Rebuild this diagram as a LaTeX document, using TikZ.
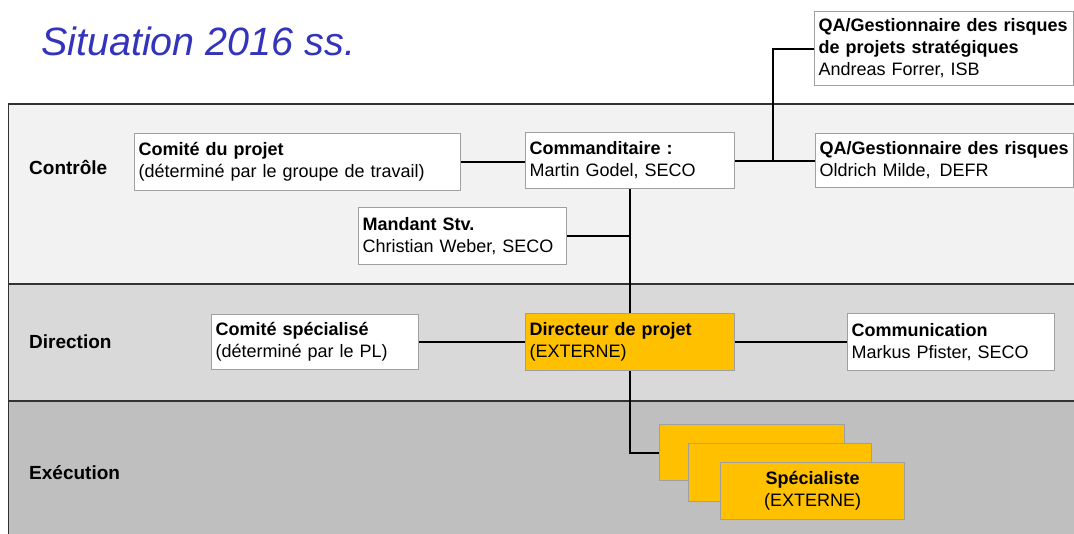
\documentclass[tikz,border=0pt]{standalone}
\usepackage{fontspec}
\setmainfont{Liberation Sans}
\definecolor{titleblue}{RGB}{51,51,187}
\definecolor{bandA}{RGB}{242,242,242}
\definecolor{bandB}{RGB}{217,217,217}
\definecolor{bandC}{RGB}{191,191,191}
\definecolor{boxgray}{RGB}{160,160,160}
\definecolor{frameline}{RGB}{50,50,50}
\definecolor{orangebox}{RGB}{255,192,0}
\tikzset{
  box/.style={draw=boxgray, line width=1.2pt, fill=white, anchor=north west,
    inner xsep=4pt, inner ysep=0pt, align=left,
    font=\fontsize{18}{22}\selectfont},
  orange/.style={fill=orangebox},
  lane/.style={draw=frameline, line width=1.2pt},
  lanelabel/.style={anchor=west, font=\fontsize{19}{22}\selectfont\bfseries},
  conn/.style={draw=black, line width=2pt},
}
\begin{document}
\begin{tikzpicture}[x=1pt,y=-1pt]
\useasboundingbox (0,0) rectangle (1074,533);
\clip (0,0) rectangle (1074,533);
% lanes
\fill[white] (0,0) rectangle (1074,533);
\path[lane, fill=bandA] (8.5,104) rectangle (1090,284);
\path[lane, fill=bandB] (8.5,284) rectangle (1090,401);
\path[lane, fill=bandC] (8.5,401) rectangle (1090,560);
% title
\node[anchor=base west, inner sep=0pt, text=titleblue,
  font=\fontsize{39.5}{44}\selectfont\itshape] (title) at (41,55) {Situation 2016 ss.};
% lane labels
\node[lanelabel, inner sep=0pt] (lctrl) at (29,167) {Contrôle};
\node[lanelabel, inner sep=0pt] (ldir) at (29,342) {Direction};
\node[lanelabel, inner sep=0pt] (lexe) at (29,473) {Exécution};
% boxes
\node[box, minimum width=326, minimum height=57, text width=318pt] (comite) at (134,133)
  {\textbf{Comité du projet}\\(déterminé par le groupe de travail)};
\node[box, minimum width=209, minimum height=56, text width=201pt] (comm) at (525,132)
  {\textbf{Commanditaire :}\\Martin Godel, SECO};
\node[box, minimum width=208, minimum height=57, text width=200pt] (mand) at (358,207)
  {\textbf{Mandant Stv.}\\Christian Weber, SECO};
\node[box, minimum width=259, minimum height=74, text width=251pt] (qa1) at (814,11)
  {\textbf{QA/Gestionnaire des risques}\\\textbf{de projets stratégiques}\\Andreas Forrer, ISB};
\node[box, minimum width=258, minimum height=54, text width=250pt] (qa2) at (815,133)
  {\textbf{QA/Gestionnaire des risques}\\Oldrich Milde,\, DEFR};
\node[box, minimum width=207, minimum height=55, text width=199pt] (comspe) at (211,314)
  {\textbf{Comité spécialisé}\\(déterminé par le PL)};
\node[box, orange, minimum width=209, minimum height=57, text width=201pt] (dir) at (525,313)
  {\textbf{Directeur de projet}\\(EXTERNE)};
\node[box, minimum width=207, minimum height=57, text width=199pt] (commun) at (847,313)
  {\textbf{Communication}\\Markus Pfister, SECO};
% connectors
\coordinate (jqa) at (773,160);
\draw[conn] (comite.east) -- (comite.east -| comm.west);
\draw[conn] (comm.east) -- (qa2.west);
\draw[conn] (jqa) |- (qa1.west);
\draw[conn] (mand.east) -- (mand.east -| comm.south);
\draw[conn] (comm.south) -- (dir.north);
\draw[conn] (comspe.east) -- (dir.west);
\draw[conn] (dir.east) -- (commun.west);
% specialists
\node[box, orange, minimum width=185, minimum height=56] (spec1) at (659,424) {};
\node[box, orange, minimum width=183, minimum height=58] (spec2) at (688,443) {};
\node[box, orange, minimum width=184, minimum height=57, text width=176pt, align=center] (spec3) at (720,462)
  {\textbf{Spécialiste}\\(EXTERNE)};
\draw[conn] (dir.south) |- (spec1.west);
\end{tikzpicture}
\end{document}
